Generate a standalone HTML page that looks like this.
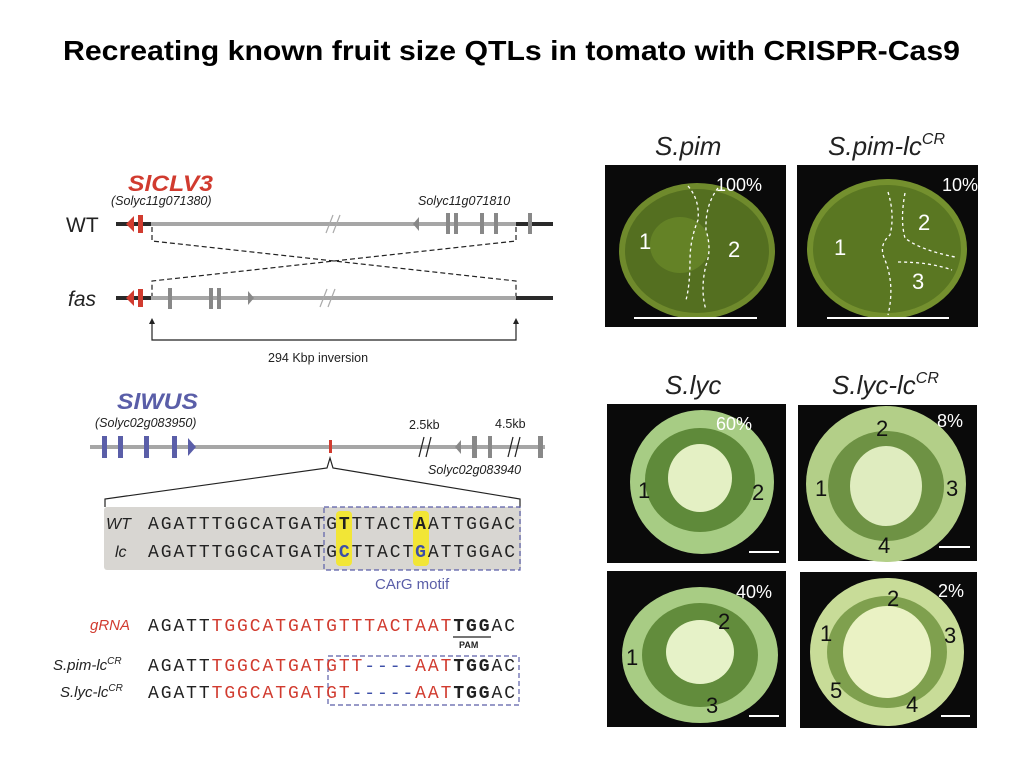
<!DOCTYPE html>
<html><head><meta charset="utf-8"><style>
html,body{margin:0;padding:0;background:#fff;}
svg{display:block;}
text{font-family:"Liberation Sans",sans-serif;}
.mono{font-family:"Liberation Mono",monospace;font-size:18px;letter-spacing:1.92px;}
</style></head><body>
<svg width="1024" height="768" viewBox="0 0 1024 768" xmlns="http://www.w3.org/2000/svg">
<rect width="1024" height="768" fill="#fff"/>
<text x="63" y="60" font-size="28" font-weight="bold" textLength="897" lengthAdjust="spacingAndGlyphs">Recreating known fruit size QTLs in tomato with CRISPR-Cas9</text>

<!-- SlCLV3 -->
<text x="128" y="191" font-size="22" font-weight="bold" font-style="italic" fill="#d13b2f" textLength="85" lengthAdjust="spacingAndGlyphs">SlCLV3</text>
<text x="111" y="205" font-size="12.5" font-style="italic" fill="#222">(Solyc11g071380)</text>
<text x="418" y="205" font-size="12.5" font-style="italic" fill="#222">Solyc11g071810</text>
<text x="66" y="232" font-size="21" fill="#222">WT</text>
<text x="68" y="306" font-size="21" font-style="italic" fill="#222">fas</text>
<line x1="151" y1="224" x2="516" y2="224" stroke="#a6a6a6" stroke-width="4"/>
<line x1="116" y1="224" x2="151" y2="224" stroke="#2a2a2a" stroke-width="4"/>
<line x1="516" y1="224" x2="553" y2="224" stroke="#2a2a2a" stroke-width="4"/>
<polygon points="126,224 134,216 134,232" fill="#d13b2f"/>
<rect x="138" y="215" width="5" height="18" fill="#d13b2f"/>
<line x1="326" y1="233" x2="333" y2="215" stroke="#aaa" stroke-width="1.2"/>
<line x1="333" y1="233" x2="340" y2="215" stroke="#aaa" stroke-width="1.2"/>
<polygon points="413,224 419,217 419,231" fill="#888"/>
<rect x="446" y="213" width="4" height="21" fill="#888"/><rect x="454" y="213" width="4" height="21" fill="#888"/>
<rect x="480" y="213" width="4" height="21" fill="#888"/><rect x="494" y="213" width="4" height="21" fill="#888"/>
<rect x="528" y="213" width="4" height="21" fill="#888"/>
<line x1="151" y1="298" x2="516" y2="298" stroke="#a6a6a6" stroke-width="4"/>
<line x1="116" y1="298" x2="151" y2="298" stroke="#2a2a2a" stroke-width="4"/>
<line x1="516" y1="298" x2="553" y2="298" stroke="#2a2a2a" stroke-width="4"/>
<polygon points="126,298 134,290 134,306" fill="#d13b2f"/>
<rect x="138" y="289" width="5" height="18" fill="#d13b2f"/>
<rect x="168" y="288" width="4" height="21" fill="#888"/>
<rect x="209" y="288" width="4" height="21" fill="#888"/><rect x="217" y="288" width="4" height="21" fill="#888"/>
<polygon points="254,298 248,291 248,305" fill="#888"/>
<line x1="320" y1="307" x2="327" y2="289" stroke="#aaa" stroke-width="1.2"/>
<line x1="328" y1="307" x2="335" y2="289" stroke="#aaa" stroke-width="1.2"/>
<polyline points="152,227 152,241 516,281 516,296" fill="none" stroke="#222" stroke-width="1.2" stroke-dasharray="5,3"/>
<polyline points="516,227 516,241 152,281 152,296" fill="none" stroke="#222" stroke-width="1.2" stroke-dasharray="5,3"/>
<polyline points="152,321 152,340 516,340 516,321" fill="none" stroke="#222" stroke-width="1.2"/>
<polygon points="152,318 149,324 155,324" fill="#222"/>
<polygon points="516,318 513,324 519,324" fill="#222"/>
<text x="268" y="362" font-size="12.5" fill="#222">294 Kbp inversion</text>

<!-- SlWUS -->
<text x="117" y="409" font-size="22" font-weight="bold" font-style="italic" fill="#5a5ea8" textLength="81" lengthAdjust="spacingAndGlyphs">SlWUS</text>
<text x="95" y="427" font-size="12.5" font-style="italic" fill="#222">(Solyc02g083950)</text>
<text x="409" y="429" font-size="12.5" fill="#222">2.5kb</text>
<text x="495" y="428" font-size="12.5" fill="#222">4.5kb</text>
<text x="428" y="474" font-size="12.5" font-style="italic" fill="#222">Solyc02g083940</text>
<line x1="90" y1="447" x2="545" y2="447" stroke="#a6a6a6" stroke-width="4"/>
<rect x="102" y="436" width="5" height="22" fill="#5a5ea8"/><rect x="118" y="436" width="5" height="22" fill="#5a5ea8"/>
<rect x="144" y="436" width="5" height="22" fill="#5a5ea8"/><rect x="172" y="436" width="5" height="22" fill="#5a5ea8"/>
<polygon points="196,447 188,438 188,456" fill="#5a5ea8"/>
<rect x="329" y="440" width="3" height="13" fill="#d13b2f"/>
<line x1="419" y1="457" x2="424" y2="437" stroke="#222" stroke-width="1.2"/>
<line x1="426" y1="457" x2="431" y2="437" stroke="#222" stroke-width="1.2"/>
<polygon points="455,447 461,440 461,454" fill="#888"/>
<rect x="472" y="436" width="5" height="22" fill="#888"/><rect x="488" y="436" width="4" height="22" fill="#888"/>
<line x1="508" y1="457" x2="513" y2="437" stroke="#222" stroke-width="1.2"/>
<line x1="515" y1="457" x2="520" y2="437" stroke="#222" stroke-width="1.2"/>
<rect x="538" y="436" width="5" height="22" fill="#888"/>
<polyline points="105,507 105,499 327,468 330,458 333,468 520,499 520,507" fill="none" stroke="#222" stroke-width="1.2"/>
<rect x="104" y="507" width="417" height="63" rx="3" fill="#d8d6d2"/>
<rect x="336" y="511" width="16" height="55" rx="4" fill="#f2e636"/>
<rect x="413" y="511" width="16" height="55" rx="4" fill="#f2e636"/>
<rect x="324" y="507" width="196" height="63" fill="none" stroke="#5a5ea8" stroke-width="1.2" stroke-dasharray="5,3"/>
<text x="106" y="529" font-size="16" font-style="italic" fill="#222">WT</text>
<text x="115" y="557" font-size="16" font-style="italic" fill="#222">lc</text>
<text class="mono" x="148" y="529" fill="#222">AGATTTGGCATGATG<tspan font-weight="bold">T</tspan>TTACT<tspan font-weight="bold">A</tspan>ATTGGAC</text>
<text class="mono" x="148" y="557" fill="#222">AGATTTGGCATGATG<tspan font-weight="bold" fill="#3d4fa8">C</tspan>TTACT<tspan font-weight="bold" fill="#3d4fa8">G</tspan>ATTGGAC</text>
<text x="375" y="589" font-size="15" fill="#5a5ea8">CArG motif</text>

<text x="90" y="630" font-size="15" font-style="italic" fill="#d13b2f">gRNA</text>
<text class="mono" x="148" y="631" fill="#222">AGATT<tspan fill="#d13b2f">TGGCATGATGTTTACTAAT</tspan><tspan font-weight="bold">TGG</tspan>AC</text>
<line x1="453" y1="637" x2="491" y2="637" stroke="#222" stroke-width="1.2"/>
<text x="459" y="648" font-size="9" font-weight="bold" font-family="Liberation Mono,monospace" fill="#222">PAM</text>
<rect x="328" y="656" width="191" height="49" fill="none" stroke="#5a5ea8" stroke-width="1.2" stroke-dasharray="5,3"/>
<text x="53" y="670" font-size="15" font-style="italic" fill="#222">S.pim-lc<tspan font-size="10" dy="-6">CR</tspan></text>
<text x="60" y="697" font-size="15" font-style="italic" fill="#222">S.lyc-lc<tspan font-size="10" dy="-6">CR</tspan></text>
<text class="mono" x="148" y="671" fill="#222">AGATT<tspan fill="#d13b2f">TGGCATGATGTT</tspan><tspan fill="#3d4fa8">----</tspan><tspan fill="#d13b2f">AAT</tspan><tspan font-weight="bold">TGG</tspan>AC</text>
<text class="mono" x="148" y="698" fill="#222">AGATT<tspan fill="#d13b2f">TGGCATGATGT</tspan><tspan fill="#3d4fa8">-----</tspan><tspan fill="#d13b2f">AAT</tspan><tspan font-weight="bold">TGG</tspan>AC</text>

<!-- Right photo panels -->
<text x="655" y="155" font-size="26" font-style="italic" fill="#222">S.pim</text>
<text x="828" y="155" font-size="26" font-style="italic" fill="#222">S.pim-lc<tspan font-size="16" dy="-11">CR</tspan></text>
<text x="665" y="394" font-size="26" font-style="italic" fill="#222">S.lyc</text>
<text x="832" y="394" font-size="26" font-style="italic" fill="#222">S.lyc-lc<tspan font-size="16" dy="-11">CR</tspan></text>

<rect x="605" y="165" width="181" height="162" fill="#0a0a0a"/>
<ellipse cx="697" cy="251" rx="78" ry="68" fill="#6f8a2c"/>
<ellipse cx="697" cy="251" rx="72" ry="62" fill="#546f20"/>
<ellipse cx="680" cy="245" rx="30" ry="28" fill="#6b8a2a" opacity="0.7"/>
<path d="M688,186 Q700,200 698,220 Q690,240 690,260 Q690,285 686,300 M718,188 Q705,205 706,230 Q712,250 706,265 Q700,290 706,310" fill="none" stroke="#fff" stroke-width="1.3" stroke-dasharray="3,3"/>
<text x="716" y="191" font-size="18" fill="#fff">100%</text>
<text x="639" y="249" font-size="22" fill="#fff">1</text>
<text x="728" y="257" font-size="22" fill="#fff">2</text>
<line x1="634" y1="318" x2="757" y2="318" stroke="#fff" stroke-width="2"/>
<rect x="797" y="165" width="181" height="162" fill="#0a0a0a"/>
<ellipse cx="887" cy="249" rx="80" ry="70" fill="#74902e"/>
<ellipse cx="887" cy="249" rx="74" ry="64" fill="#5a7722"/>
<path d="M888,192 Q895,215 890,235 Q878,245 885,260 Q895,285 888,315 M905,193 Q900,220 905,238 Q920,250 955,257 M898,262 Q930,262 952,270" fill="none" stroke="#fff" stroke-width="1.3" stroke-dasharray="3,3"/>
<text x="942" y="191" font-size="18" fill="#fff">10%</text>
<text x="834" y="255" font-size="22" fill="#fff">1</text>
<text x="918" y="230" font-size="22" fill="#fff">2</text>
<text x="912" y="289" font-size="22" fill="#fff">3</text>
<line x1="827" y1="318" x2="949" y2="318" stroke="#fff" stroke-width="2"/>

<rect x="607" y="404" width="179" height="159" fill="#0a0a0a"/>
<ellipse cx="702" cy="482" rx="72" ry="72" fill="#a7cc84"/>
<ellipse cx="700" cy="480" rx="55" ry="52" fill="#5f8a3a"/>
<ellipse cx="700" cy="478" rx="32" ry="34" fill="#e4f0c4"/>
<text x="716" y="430" font-size="18" fill="#fff">60%</text>
<text x="638" y="498" font-size="22" fill="#111">1</text>
<text x="752" y="500" font-size="22" fill="#111">2</text>
<line x1="749" y1="552" x2="779" y2="552" stroke="#fff" stroke-width="2"/>
<rect x="798" y="405" width="179" height="156" fill="#0a0a0a"/>
<ellipse cx="886" cy="484" rx="80" ry="78" fill="#b3cf88"/>
<ellipse cx="886" cy="486" rx="58" ry="55" fill="#6e9244"/>
<ellipse cx="886" cy="486" rx="36" ry="40" fill="#dfecbf"/>
<text x="937" y="427" font-size="18" fill="#fff">8%</text>
<text x="815" y="496" font-size="22" fill="#111">1</text>
<text x="876" y="436" font-size="22" fill="#111">2</text>
<text x="946" y="496" font-size="22" fill="#111">3</text>
<text x="878" y="553" font-size="22" fill="#111">4</text>
<line x1="939" y1="547" x2="970" y2="547" stroke="#fff" stroke-width="2"/>
<rect x="607" y="571" width="179" height="156" fill="#0a0a0a"/>
<ellipse cx="700" cy="655" rx="78" ry="68" fill="#a8cc84"/>
<ellipse cx="700" cy="655" rx="58" ry="52" fill="#628c3c"/>
<ellipse cx="700" cy="652" rx="34" ry="32" fill="#e6f2c8"/>
<text x="736" y="598" font-size="18" fill="#fff">40%</text>
<text x="626" y="665" font-size="22" fill="#111">1</text>
<text x="718" y="629" font-size="22" fill="#111">2</text>
<text x="706" y="713" font-size="22" fill="#111">3</text>
<line x1="749" y1="716" x2="779" y2="716" stroke="#fff" stroke-width="2"/>
<rect x="800" y="572" width="177" height="156" fill="#0a0a0a"/>
<ellipse cx="887" cy="652" rx="77" ry="74" fill="#c8dc98"/>
<ellipse cx="887" cy="652" rx="60" ry="56" fill="#7fa04e"/>
<ellipse cx="887" cy="652" rx="44" ry="46" fill="#eaf2c4"/>
<text x="938" y="597" font-size="18" fill="#fff">2%</text>
<text x="820" y="641" font-size="22" fill="#111">1</text>
<text x="887" y="606" font-size="22" fill="#111">2</text>
<text x="944" y="643" font-size="22" fill="#111">3</text>
<text x="906" y="712" font-size="22" fill="#111">4</text>
<text x="830" y="698" font-size="22" fill="#111">5</text>
<line x1="941" y1="716" x2="970" y2="716" stroke="#fff" stroke-width="2"/>
</svg>
</body></html>
